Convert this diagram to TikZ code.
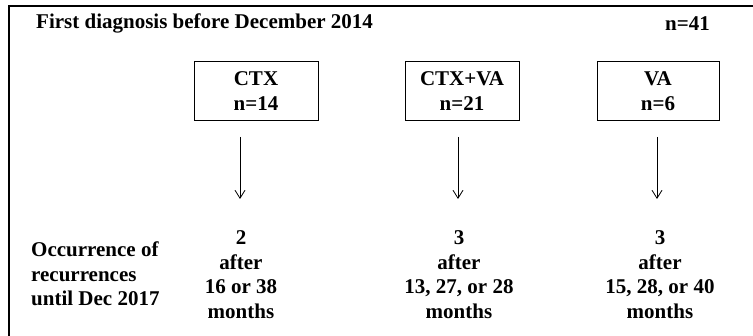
\documentclass[tikz,border=0pt]{standalone}
\usepackage{fontspec}
\setmainfont{Liberation Serif}
\usetikzlibrary{arrows.meta}
\begin{document}
\begin{tikzpicture}[x=1pt,y=-1pt,
  txt/.style={font=\fontsize{21}{24.5}\selectfont\bfseries, inner sep=0pt},
  grpbox/.style={draw, line width=1pt, align=center, minimum height=59pt, inner sep=0pt,
    font=\fontsize{21}{25}\selectfont\bfseries},
  res/.style={txt, align=center},
  flow/.style={line width=0.8pt, -{Straight Barb[length=8pt,width=10pt,line width=0.8pt]}}]
\useasboundingbox (0,0) rectangle (753,336);
\draw[line width=1.3pt] (9,336) -- (9,6) -- (753,6);
\node[txt, anchor=base west] (title) at (36,29) {First diagnosis before December 2014};
\node[txt, anchor=base west] (ntot) at (665,31) {n=41};
\node[grpbox, minimum width=124pt] (ctx) at (256,91.5) {CTX\\n=14};
\node[grpbox, minimum width=114pt] (ctxva) at (462,91.5) {CTX+VA\\n=21};
\node[grpbox, minimum width=122pt] (va) at (658,91.5) {VA\\n=6};
\coordinate (s1) at (240,137); \coordinate (e1) at (240,199);
\coordinate (s2) at (458,137); \coordinate (e2) at (458,199);
\coordinate (s3) at (657,137); \coordinate (e3) at (657,199);
\draw[flow] (s1) -- (e1);
\draw[flow] (s2) -- (e2);
\draw[flow] (s3) -- (e3);
\node[txt, align=left, anchor=west] (lbl) at (31,274) {Occurrence of\\recurrences\\until Dec 2017};
\node[res] (r1) at (241,274.5) {2\\after\\16 or 38\\months};
\node[res] (r2) at (459,274.5) {3\\after\\13, 27, or 28\\months};
\node[res] (r3) at (660,274.5) {3\\after\\15, 28, or 40\\months};
\end{tikzpicture}
\end{document}
